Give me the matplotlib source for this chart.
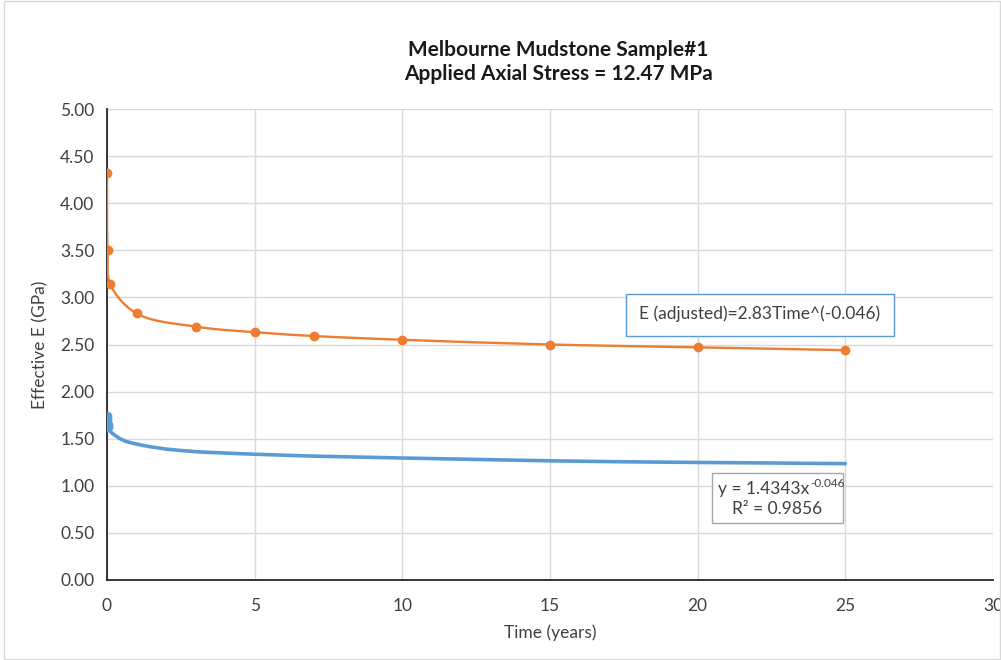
import numpy as np
import matplotlib
matplotlib.use("Agg")
import matplotlib.pyplot as plt
from matplotlib.patches import Rectangle

plt.rcParams['font.family'] = ['Lato', 'DejaVu Sans']

# ---- data ----
title = "Melbourne Mudstone Sample#1\nApplied Axial Stress = 12.47 MPa"
x_label = "Time (years)"
y_label = "Effective E (GPa)"

adj_time = [0.0001, 0.02, 0.11, 1, 3, 5, 7, 10, 15, 20, 25]
adj_E = [4.32, 3.50, 3.14, 2.83, 2.69, 2.63, 2.59, 2.55, 2.50, 2.47, 2.44]

meas_time = [0.001, 0.005, 0.01, 0.02, 0.04, 0.08, 0.15, 0.25, 0.44, 0.65, 0.9, 1.2,
             1.45, 2, 2.5, 3.1, 4.2, 5, 7, 10, 12.5, 15, 17.5, 20, 22.5, 25]
meas_E = [1.74, 1.71, 1.68, 1.65, 1.62, 1.59, 1.565, 1.54, 1.50, 1.47, 1.45, 1.43,
          1.415, 1.39, 1.375, 1.36, 1.345, 1.335, 1.315, 1.295, 1.28, 1.265, 1.255,
          1.248, 1.242, 1.235]

x_ticks = [0, 5, 10, 15, 20, 25, 30]
y_ticks = [0, 0.5, 1.0, 1.5, 2.0, 2.5, 3.0, 3.5, 4.0, 4.5, 5.0]

adj_text = "E (adjusted)=2.83Time^(-0.046)"
fit_main = "y = 1.4343x"
fit_exp = "-0.046"
fit_r2 = "R² = 0.9856"

ORANGE = "#ED7D31"
BLUE = "#5B9BD5"
GRID = "#D9D9D9"
TXT = "#404040"

W, H = 1001, 660


def px(x, y):
    return x / W, 1 - y / H


def centripetal_spline(xs, ys, sx, sy, n=40, alpha=0.5):
    """Smooth drawing curve through the given points (Catmull-Rom, centripetal)."""
    P = np.column_stack([np.asarray(xs) * sx, np.asarray(ys) * sy])
    P = np.vstack([2 * P[0] - P[1], P, 2 * P[-1] - P[-2]])
    out = []
    for i in range(1, len(P) - 2):
        p0, p1, p2, p3 = P[i - 1], P[i], P[i + 1], P[i + 2]
        t0 = 0.0
        t1 = t0 + max(np.linalg.norm(p1 - p0), 1e-9) ** alpha
        t2 = t1 + max(np.linalg.norm(p2 - p1), 1e-9) ** alpha
        t3 = t2 + max(np.linalg.norm(p3 - p2), 1e-9) ** alpha
        t = np.linspace(t1, t2, n)[:, None]
        A1 = (t1 - t) / (t1 - t0) * p0 + (t - t0) / (t1 - t0) * p1
        A2 = (t2 - t) / (t2 - t1) * p1 + (t - t1) / (t2 - t1) * p2
        A3 = (t3 - t) / (t3 - t2) * p2 + (t - t2) / (t3 - t2) * p3
        B1 = (t2 - t) / (t2 - t0) * A1 + (t - t0) / (t2 - t0) * A2
        B2 = (t3 - t) / (t3 - t1) * A2 + (t - t1) / (t3 - t1) * A3
        C = (t2 - t) / (t2 - t1) * B1 + (t - t1) / (t2 - t1) * B2
        out.append(C)
    C = np.vstack(out)
    return C[:, 0] / sx, C[:, 1] / sy


fig = plt.figure(figsize=(W / 100, H / 100), dpi=100)
fig.patches.append(Rectangle((0.004, 0.002), 0.995, 0.996, transform=fig.transFigure,
                             fill=False, edgecolor=GRID, linewidth=1.0))
ax = fig.add_axes([107 / W, 1 - 580 / H, 886 / W, 471 / H])

ax.set_xlim(0, 30)
ax.set_ylim(0, 5)
ax.set_xticks(x_ticks)
ax.set_yticks(y_ticks)
ax.set_xticklabels([str(v) for v in x_ticks])
ax.set_yticklabels([f"{v:.2f}" for v in y_ticks])
ax.tick_params(length=0, labelsize=12.5, colors=TXT, pad=9)
ax.tick_params(axis='x', pad=13)
ax.grid(True, color=GRID, linewidth=1.0)
ax.set_axisbelow(True)
for s in ["top", "right"]:
    ax.spines[s].set_visible(False)
for s in ["left", "bottom"]:
    ax.spines[s].set_color("#262626")
    ax.spines[s].set_linewidth(1.3)

# measured (blue)
ax.plot(meas_time, meas_E, color=BLUE, linewidth=2.6, solid_capstyle='round', zorder=3)
ax.plot(meas_time[:5], meas_E[:5], 'o', color=BLUE, markersize=6, zorder=3)

# adjusted (orange)
sxs, sys_ = centripetal_spline(adj_time, adj_E, 886 / 30, 471 / 5)
ax.plot(sxs, sys_, color=ORANGE, linewidth=1.7, zorder=4)
ax.plot(adj_time, adj_E, 'o', color=ORANGE, markersize=6, zorder=5)

fig.text(*px(550, 633), x_label, fontsize=12.5, color=TXT, ha='center', va='center')
fig.text(*px(40, 345), y_label, fontsize=12.5, color=TXT, ha='center', va='center',
         rotation=90)

fig.text(*px(558, 62), title, ha='center', va='center', fontsize=15,
         fontweight='bold', color="#1a1a1a", linespacing=1.3)

# annotation boxes
x0, y0 = px(626, 336)
x1, y1 = px(894, 294)
fig.patches.append(Rectangle((x0, y0), x1 - x0, y1 - y0, transform=fig.transFigure,
                             facecolor='white', edgecolor=BLUE, linewidth=1.0, zorder=6))
fig.text(*px(760, 314), adj_text, fontsize=12.5, color=TXT, ha='center', va='center',
         zorder=7)

x0, y0 = px(712, 523)
x1, y1 = px(843, 473)
fig.patches.append(Rectangle((x0, y0), x1 - x0, y1 - y0, transform=fig.transFigure,
                             facecolor='white', edgecolor="#A6A6A6", linewidth=1.0, zorder=6))
fig.text(*px(809, 494), fit_main, fontsize=12.5, color=TXT, ha='right', va='baseline',
         zorder=7)
fig.text(*px(810, 487), fit_exp, fontsize=8.5, color=TXT, ha='left', va='baseline',
         zorder=7)
fig.text(*px(777, 514), fit_r2, fontsize=12.5, color=TXT, ha='center', va='baseline',
         zorder=7)

fig.savefig("out.png", dpi=100)
